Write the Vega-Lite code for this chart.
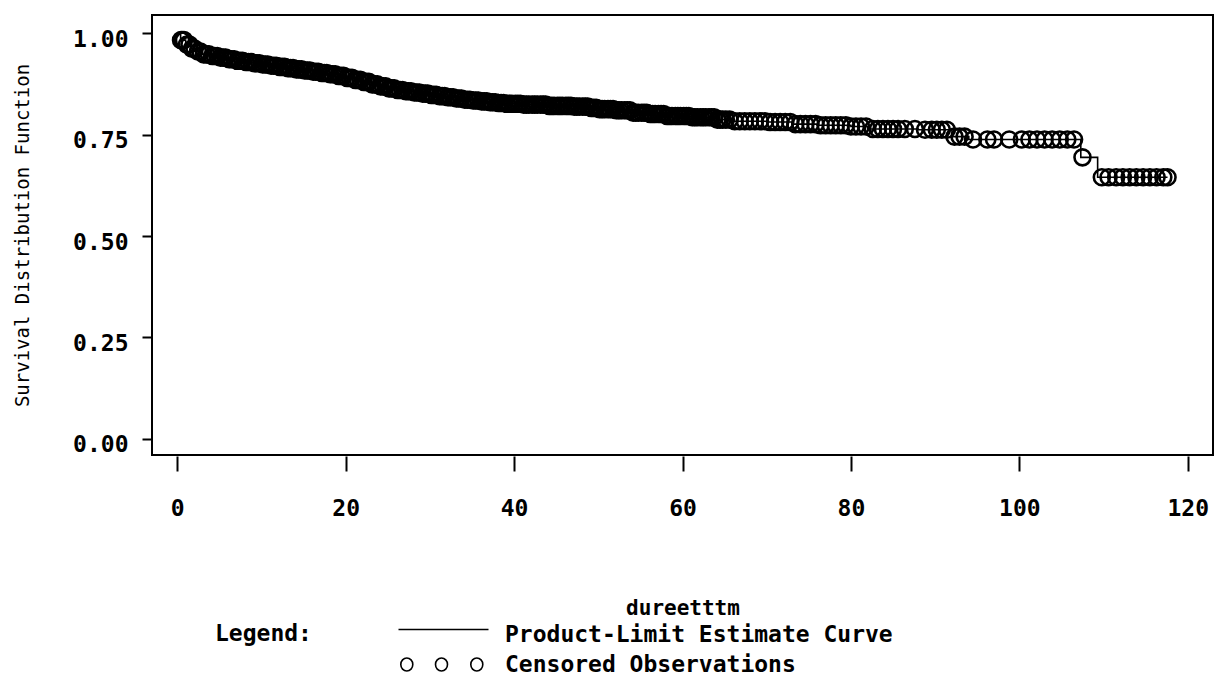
{
  "$schema": "https://vega.github.io/schema/vega-lite/v6.json",
  "autosize": {"type": "none"},
  "width": 1061,
  "height": 440,
  "padding": {"left": 152, "top": 15, "right": 2, "bottom": 225},
  "background": "white",
  "config": {
    "view": {"stroke": "black", "strokeWidth": 2},
    "font": "DejaVu Sans Mono"
  },
  "datasets": {
    "curve": [
      {"t": 0, "s": 1.0}, {"t": 0.4, "s": 0.983}, {"t": 1, "s": 0.972}, {"t": 1.6, "s": 0.962}, {"t": 2.2, "s": 0.955},
      {"t": 3, "s": 0.948}, {"t": 4, "s": 0.944}, {"t": 5, "s": 0.94}, {"t": 6, "s": 0.936}, {"t": 7, "s": 0.932},
      {"t": 8, "s": 0.929}, {"t": 9, "s": 0.926}, {"t": 10, "s": 0.923}, {"t": 11, "s": 0.92}, {"t": 12, "s": 0.917},
      {"t": 13, "s": 0.914}, {"t": 14, "s": 0.911}, {"t": 15, "s": 0.908}, {"t": 16, "s": 0.905}, {"t": 17, "s": 0.902},
      {"t": 18, "s": 0.899}, {"t": 19, "s": 0.895}, {"t": 20, "s": 0.89}, {"t": 21, "s": 0.885}, {"t": 22, "s": 0.88},
      {"t": 23, "s": 0.874}, {"t": 24, "s": 0.869}, {"t": 25, "s": 0.864}, {"t": 26, "s": 0.86}, {"t": 27, "s": 0.857},
      {"t": 28, "s": 0.854}, {"t": 29, "s": 0.851}, {"t": 30, "s": 0.848}, {"t": 31, "s": 0.845}, {"t": 32, "s": 0.842},
      {"t": 33, "s": 0.839}, {"t": 34, "s": 0.836}, {"t": 35, "s": 0.834}, {"t": 36, "s": 0.832}, {"t": 37, "s": 0.83},
      {"t": 38, "s": 0.828}, {"t": 39, "s": 0.826}, {"t": 41, "s": 0.824}, {"t": 44, "s": 0.821}, {"t": 47, "s": 0.819},
      {"t": 49, "s": 0.816}, {"t": 50, "s": 0.813}, {"t": 52, "s": 0.81}, {"t": 54, "s": 0.804}, {"t": 56, "s": 0.801},
      {"t": 58, "s": 0.796}, {"t": 61, "s": 0.793}, {"t": 64, "s": 0.787}, {"t": 66, "s": 0.783}, {"t": 70, "s": 0.781},
      {"t": 73, "s": 0.776}, {"t": 76, "s": 0.773}, {"t": 80, "s": 0.77}, {"t": 82, "s": 0.764}, {"t": 88, "s": 0.762},
      {"t": 92, "s": 0.745}, {"t": 94, "s": 0.738}, {"t": 107.3, "s": 0.694}, {"t": 109.3, "s": 0.645}, {"t": 117.6, "s": 0.645}
    ],
    "censored": [
      {"t":0.45,"s":0.983},{"t":0.6,"s":0.983},{"t":0.8,"s":0.983},
      {"t":1.15,"s":0.972},{"t":1.45,"s":0.972},{"t":1.75,"s":0.962},
      {"t":2.05,"s":0.962},{"t":2.45,"s":0.955},{"t":2.75,"s":0.955},
      {"t":3.15,"s":0.948},{"t":3.45,"s":0.948},{"t":3.75,"s":0.948},
      {"t":4.15,"s":0.944},{"t":4.45,"s":0.944},{"t":4.75,"s":0.944},
      {"t":5.15,"s":0.94},{"t":5.45,"s":0.94},{"t":5.75,"s":0.94},
      {"t":6.15,"s":0.936},{"t":6.45,"s":0.936},{"t":6.75,"s":0.936},
      {"t":7.15,"s":0.932},{"t":7.45,"s":0.932},{"t":7.75,"s":0.932},
      {"t":8.15,"s":0.929},{"t":8.45,"s":0.929},{"t":8.75,"s":0.929},
      {"t":9.15,"s":0.926},{"t":9.45,"s":0.926},{"t":9.75,"s":0.926},
      {"t":10.15,"s":0.923},{"t":10.45,"s":0.923},{"t":10.75,"s":0.923},
      {"t":11.15,"s":0.92},{"t":11.45,"s":0.92},{"t":11.75,"s":0.92},
      {"t":12.15,"s":0.917},{"t":12.45,"s":0.917},{"t":12.75,"s":0.917},
      {"t":13.15,"s":0.914},{"t":13.45,"s":0.914},{"t":13.75,"s":0.914},
      {"t":14.15,"s":0.911},{"t":14.45,"s":0.911},{"t":14.75,"s":0.911},
      {"t":15.15,"s":0.908},{"t":15.45,"s":0.908},{"t":15.75,"s":0.908},
      {"t":16.15,"s":0.905},{"t":16.45,"s":0.905},{"t":16.75,"s":0.905},
      {"t":17.15,"s":0.902},{"t":17.45,"s":0.902},{"t":17.75,"s":0.902},
      {"t":18.15,"s":0.899},{"t":18.45,"s":0.899},{"t":18.75,"s":0.899},
      {"t":19.15,"s":0.895},{"t":19.45,"s":0.895},{"t":19.75,"s":0.895},
      {"t":20.15,"s":0.89},{"t":20.45,"s":0.89},{"t":20.75,"s":0.89},
      {"t":21.15,"s":0.885},{"t":21.45,"s":0.885},{"t":21.75,"s":0.885},
      {"t":22.15,"s":0.88},{"t":22.45,"s":0.88},{"t":22.75,"s":0.88},
      {"t":23.15,"s":0.874},{"t":23.45,"s":0.874},{"t":23.75,"s":0.874},
      {"t":24.15,"s":0.869},{"t":24.45,"s":0.869},{"t":24.75,"s":0.869},
      {"t":25.15,"s":0.864},{"t":25.45,"s":0.864},{"t":25.75,"s":0.864},
      {"t":26.15,"s":0.86},{"t":26.45,"s":0.86},{"t":26.75,"s":0.86},
      {"t":27.15,"s":0.857},{"t":27.45,"s":0.857},{"t":27.75,"s":0.857},
      {"t":28.15,"s":0.854},{"t":28.45,"s":0.854},{"t":28.75,"s":0.854},
      {"t":29.15,"s":0.851},{"t":29.45,"s":0.851},{"t":29.75,"s":0.851},
      {"t":30.15,"s":0.848},{"t":30.45,"s":0.848},{"t":30.75,"s":0.848},
      {"t":31.15,"s":0.845},{"t":31.45,"s":0.845},{"t":31.75,"s":0.845},
      {"t":32.15,"s":0.842},{"t":32.45,"s":0.842},{"t":32.75,"s":0.842},
      {"t":33.15,"s":0.839},{"t":33.45,"s":0.839},{"t":33.75,"s":0.839},
      {"t":34.15,"s":0.836},{"t":34.45,"s":0.836},{"t":34.75,"s":0.836},
      {"t":35.15,"s":0.834},{"t":35.45,"s":0.834},{"t":35.75,"s":0.834},
      {"t":36.15,"s":0.832},{"t":36.45,"s":0.832},{"t":36.75,"s":0.832},
      {"t":37.15,"s":0.83},{"t":37.45,"s":0.83},{"t":37.75,"s":0.83},
      {"t":38.15,"s":0.828},{"t":38.45,"s":0.828},{"t":38.75,"s":0.828},
      {"t":39.15,"s":0.826},{"t":39.45,"s":0.826},{"t":39.75,"s":0.826},
      {"t":40.15,"s":0.826},{"t":40.45,"s":0.826},{"t":40.75,"s":0.826},
      {"t":41.15,"s":0.824},{"t":41.45,"s":0.824},{"t":41.75,"s":0.824},
      {"t":42.15,"s":0.824},{"t":42.45,"s":0.824},{"t":42.75,"s":0.824},
      {"t":43.15,"s":0.824},{"t":43.45,"s":0.824},{"t":43.75,"s":0.824},
      {"t":44.15,"s":0.821},{"t":44.45,"s":0.821},{"t":44.75,"s":0.821},
      {"t":45.15,"s":0.821},{"t":45.45,"s":0.821},{"t":45.75,"s":0.821},
      {"t":46.15,"s":0.821},{"t":46.45,"s":0.821},{"t":46.75,"s":0.821},
      {"t":47.15,"s":0.819},{"t":47.45,"s":0.819},{"t":47.75,"s":0.819},
      {"t":48.15,"s":0.819},{"t":48.45,"s":0.819},{"t":48.75,"s":0.819},
      {"t":49.15,"s":0.816},{"t":49.45,"s":0.816},{"t":49.75,"s":0.816},
      {"t":50.15,"s":0.813},{"t":50.45,"s":0.813},{"t":50.75,"s":0.813},
      {"t":51.15,"s":0.813},{"t":51.45,"s":0.813},{"t":51.75,"s":0.813},
      {"t":52.15,"s":0.81},{"t":52.45,"s":0.81},{"t":52.75,"s":0.81},
      {"t":53.15,"s":0.81},{"t":53.45,"s":0.81},{"t":53.75,"s":0.81},
      {"t":54.15,"s":0.804},{"t":54.45,"s":0.804},{"t":54.75,"s":0.804},
      {"t":55.15,"s":0.804},{"t":55.45,"s":0.804},{"t":55.75,"s":0.804},
      {"t":56.15,"s":0.801},{"t":56.45,"s":0.801},{"t":56.75,"s":0.801},
      {"t":57.15,"s":0.801},{"t":57.45,"s":0.801},{"t":57.75,"s":0.801},
      {"t":58.15,"s":0.796},{"t":58.45,"s":0.796},{"t":58.75,"s":0.796},
      {"t":59.15,"s":0.796},{"t":59.45,"s":0.796},{"t":59.75,"s":0.796},
      {"t":60.15,"s":0.796},{"t":60.45,"s":0.796},{"t":60.75,"s":0.796},
      {"t":61.15,"s":0.793},{"t":61.45,"s":0.793},{"t":61.75,"s":0.793},
      {"t":62.15,"s":0.793},{"t":62.45,"s":0.793},{"t":62.75,"s":0.793},
      {"t":63.15,"s":0.793},{"t":63.45,"s":0.793},{"t":63.75,"s":0.793},
      {"t":64.15,"s":0.787},{"t":64.45,"s":0.787},{"t":64.75,"s":0.787},
      {"t":65.15,"s":0.787},{"t":65.6,"s":0.787},
      {"t":66.2,"s":0.783},{"t":66.8,"s":0.783},{"t":67.4,"s":0.783},{"t":68.0,"s":0.783},{"t":68.6,"s":0.783},{"t":69.2,"s":0.783},{"t":69.8,"s":0.783},
      {"t":70.4,"s":0.781},{"t":71.0,"s":0.781},{"t":71.6,"s":0.781},{"t":72.2,"s":0.781},{"t":72.8,"s":0.781},
      {"t":73.4,"s":0.776},{"t":74.0,"s":0.776},{"t":74.6,"s":0.776},{"t":75.2,"s":0.776},{"t":75.8,"s":0.776},
      {"t":76.4,"s":0.773},{"t":77.0,"s":0.773},{"t":77.6,"s":0.773},{"t":78.2,"s":0.773},{"t":78.8,"s":0.773},{"t":79.4,"s":0.773},
      {"t":80.0,"s":0.77},{"t":80.6,"s":0.77},{"t":81.2,"s":0.77},{"t":81.8,"s":0.77},
      {"t":82.6,"s":0.764},{"t":83.2,"s":0.764},{"t":83.8,"s":0.764},{"t":84.4,"s":0.764},{"t":85.0,"s":0.764},{"t":85.6,"s":0.764},{"t":86.4,"s":0.764},{"t":87.6,"s":0.764},
      {"t":88.8,"s":0.762},{"t":89.6,"s":0.762},{"t":90.2,"s":0.762},{"t":90.8,"s":0.762},{"t":91.4,"s":0.762},
      {"t":92.3,"s":0.745},{"t":92.9,"s":0.745},{"t":93.5,"s":0.745},
      {"t":94.5,"s":0.738},{"t":96.2,"s":0.738},{"t":97.0,"s":0.738},{"t":98.8,"s":0.738},{"t":100.3,"s":0.738},{"t":101.2,"s":0.738},
      {"t":102.1,"s":0.738},{"t":103.0,"s":0.738},{"t":103.9,"s":0.738},{"t":104.8,"s":0.738},{"t":105.7,"s":0.738},{"t":106.5,"s":0.738},
      {"t":107.5,"s":0.694},
      {"t":109.8,"s":0.645},{"t":110.6,"s":0.645},{"t":111.5,"s":0.645},{"t":112.3,"s":0.645},{"t":113.1,"s":0.645},{"t":113.9,"s":0.645},
      {"t":114.7,"s":0.645},{"t":115.5,"s":0.645},{"t":116.3,"s":0.645},{"t":117.1,"s":0.645},{"t":117.6,"s":0.645}
    ]
  },
  "encoding": {
    "x": {
      "field": "t", "type": "quantitative",
      "scale": {"domain": [-3, 123], "nice": false, "zero": false},
      "axis": {
        "title": "dureetttm", "values": [0, 20, 40, 60, 80, 100, 120],
        "domain": false, "grid": false, "ticks": true, "tickSize": 15, "tickWidth": 2, "tickColor": "black",
        "offset": 1,
        "labelFont": "DejaVu Sans Mono", "labelFontWeight": "bold", "labelFontSize": 23, "labelColor": "black", "labelPadding": 26,
        "titleFont": "DejaVu Sans Mono", "titleFontWeight": "bold", "titleFontSize": 21, "titleColor": "black", "titlePadding": 77
      }
    },
    "y": {
      "field": "s", "type": "quantitative",
      "scale": {"domain": [-0.04, 1.045], "nice": false, "zero": false},
      "axis": {
        "title": "Survival Distribution Function", "values": [0, 0.25, 0.5, 0.75, 1], "format": ".2f",
        "domain": false, "grid": false, "ticks": true, "tickSize": 10, "tickWidth": 2, "tickColor": "black",
        "labelFont": "DejaVu Sans Mono", "labelFontWeight": "bold", "labelFontSize": 23, "labelColor": "black", "labelPadding": 14, "labelOffset": 6,
        "titleFont": "DejaVu Sans Mono", "titleFontWeight": "normal", "titleFontSize": 19, "titleColor": "black", "titlePadding": 40
      }
    }
  },
  "layer": [
    {
      "data": {"name": "curve"},
      "mark": {"type": "line", "interpolate": "step-after", "strokeWidth": 1.6},
      "encoding": {
        "color": {
          "datum": "Product-Limit Estimate Curve",
          "type": "nominal",
          "scale": {"domain": ["Product-Limit Estimate Curve", "Censored Observations"], "range": ["black", "black"]},
          "legend": {
            "title": "Legend:",
            "orient": "none", "legendX": 63, "legendY": 608,
            "direction": "vertical",
            "titleOrient": "left", "titleAnchor": "start", "titleBaseline": "top",
            "titleFont": "DejaVu Sans Mono", "titleFontWeight": "bold", "titleFontSize": 23, "titleColor": "black", "titlePadding": 120,
            "labelFont": "DejaVu Sans Mono", "labelFontWeight": "bold", "labelFontSize": 23, "labelColor": "black", "labelOffset": 50,
            "labelLimit": 600,
            "symbolSize": 400, "rowPadding": 6, "padding": 0,
            "encode": {
              "symbols": {
                "update": {
                  "shape": {"signal": "datum.label === 'Censored Observations' ? 'M-4.27,0a0.6,0.65 0 1,0 1.2,0a0.6,0.65 0 1,0 -1.2,0M-0.8,0a0.6,0.65 0 1,0 1.2,0a0.6,0.65 0 1,0 -1.2,0M2.73,0a0.6,0.65 0 1,0 1.2,0a0.6,0.65 0 1,0 -1.2,0' : 'M-4.5,-0.5H4.5'"},
                  "fill": {"value": "transparent"},
                  "stroke": {"value": "black"},
                  "strokeWidth": {"value": 1.6},
                  "opacity": {"value": 1}
                }
              }
            }
          }
        }
      }
    },
    {
      "data": {"name": "censored"},
      "mark": {"type": "point", "shape": "circle", "filled": false, "size": 256, "strokeWidth": 2.6, "opacity": 1},
      "encoding": {
        "color": {"datum": "Censored Observations", "type": "nominal"}
      }
    }
  ]
}
